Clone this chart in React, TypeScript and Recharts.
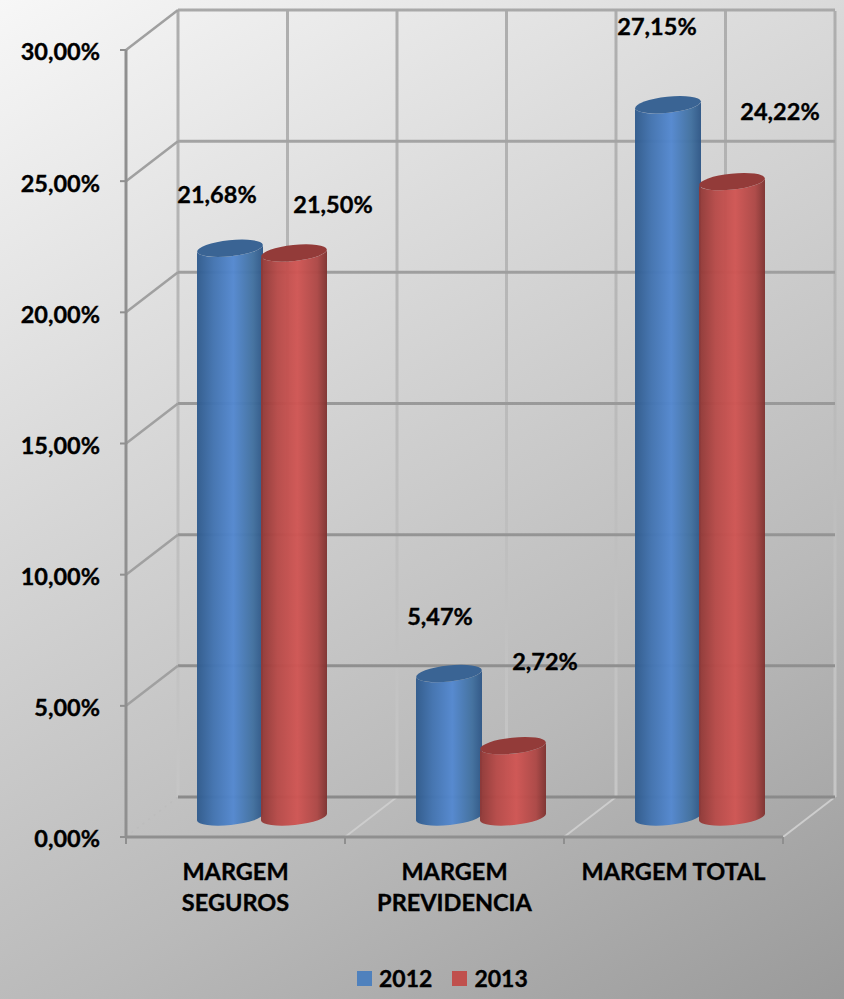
import { BarChart, Bar, XAxis, YAxis, Legend, LabelList, ReferenceLine } from "recharts"

const categories = ["MARGEM\nSEGUROS", "MARGEM\nPREVIDENCIA", "MARGEM TOTAL"]
const series2012 = [21.68, 5.47, 27.15]
const series2013 = [21.5, 2.72, 24.22]
const yTicks = [0, 5, 10, 15, 20, 25, 30]

const data = categories.map((name, i) => ({ name, v2012: series2012[i], v2013: series2013[i] }))

// 3d look: back wall and cylinders sit behind the axis plane
const WALL_DX = 52
const WALL_DY = -40
const BAR_DX = 26
const BAR_DY = -20
const PLOT_H = 786
const FONT = "Lato, sans-serif"
const textStyle = { fontFamily: FONT, fontWeight: 700, fontSize: 23.5, fill: "#000", stroke: "#000", strokeWidth: 0.35 }

// hand placed labels, relative to the bar top on the axis plane
const labelOffsets2012 = [[13, -74], [17, -78], [15, -99]]
const labelOffsets2013 = [[65, -69], [58, -105], [74, -91]]

const fmt = (v: number) => v.toFixed(2).replace(".", ",") + "%"

function Cylinder({ x, y, width, height, tone }: any) {
  const left = x + BAR_DX
  const right = left + width
  const top = y + BAR_DY
  const bottom = y + height + BAR_DY
  const rx = width / 2
  const ry = 8
  const tilt = 3.5
  return (
    <g>
      <path
        d={`M${left},${top + tilt} L${left},${bottom + tilt} A${rx},${ry} -6 0 0 ${right},${bottom - tilt} L${right},${top - tilt} A${rx},${ry} -6 0 1 ${left},${top + tilt} Z`}
        fill={`url(#body${tone})`}
        fillOpacity={0.96}
      />
      <ellipse
        cx={left + rx}
        cy={top}
        rx={rx}
        ry={ry}
        transform={`rotate(-6 ${left + rx} ${top})`}
        fill={tone === "Blue" ? "#3a6494" : "#933b39"}
      />
    </g>
  )
}

function HorizontalWallLine({ x1, y1, x2, y2, value }: any) {
  const isFloor = value === 0
  return (
    <g>
      <line x1={x1 + WALL_DX} y1={y1 + WALL_DY} x2={x2 + WALL_DX} y2={y2 + WALL_DY} stroke="url(#gridH)" strokeWidth={3} />
      <line
        x1={x1}
        y1={y1}
        x2={x1 + WALL_DX}
        y2={y1 + WALL_DY}
        stroke={isFloor ? "#bdbdbd" : "#a0a0a0"}
        strokeWidth={isFloor ? 1.5 : 2.5}
        strokeDasharray={isFloor ? "2 5" : undefined}
      />
    </g>
  )
}

function BackWallVerticals({ x1, x2, y1 }: any) {
  const step = (x2 - x1) / 6
  const floorStep = (x2 - x1) / 3
  return (
    <g>
      {[0, 1, 2, 3, 4, 5, 6].map((i) => (
        <line
          key={i}
          x1={x1 + WALL_DX + i * step}
          y1={y1 + WALL_DY - PLOT_H}
          x2={x1 + WALL_DX + i * step}
          y2={y1 + WALL_DY}
          stroke="url(#gridV)"
          strokeWidth={3}
        />
      ))}
      {[1, 2, 3].map((i) => (
        <line
          key={i}
          x1={x1 + i * floorStep}
          y1={y1}
          x2={x1 + i * floorStep + WALL_DX}
          y2={y1 + WALL_DY}
          stroke="#cdcdcd"
          strokeWidth={2}
        />
      ))}
    </g>
  )
}

function CategoryTick({ x, y, payload }: any) {
  const half = 657 / 6
  const lines = String(payload.value).split("\n")
  return (
    <g>
      <line x1={x - half} y1={y - 8} x2={x - half} y2={y - 1} stroke="#8f8f8f" strokeWidth={2} />
      <line x1={x + half} y1={y - 8} x2={x + half} y2={y - 1} stroke="#8f8f8f" strokeWidth={2} />
      <text x={x} y={y} textAnchor="middle" style={textStyle}>
        {lines.map((l, i) => (
          <tspan key={l} x={x} dy={i === 0 ? 35 : 31}>
            {l}
          </tspan>
        ))}
      </text>
    </g>
  )
}

function BarLabel({ x, y, width, value, index, offsets }: any) {
  const [dx, dy] = offsets[index]
  return (
    <text x={x + width / 2 + dx} y={y + dy} textAnchor="middle" dominantBaseline="central" style={textStyle}>
      {fmt(Number(value))}
    </text>
  )
}

function LegendContent({ payload }: any) {
  return (
    <div style={{ display: "flex", alignItems: "center", height: 30 }}>
      {(payload || []).map((item: any) => (
        <div key={item.value} style={{ display: "flex", alignItems: "center", marginRight: 20 }}>
          <span style={{ display: "inline-block", width: 15, height: 15, background: item.color, marginRight: 7 }} />
          <span style={{ color: "#000", fontFamily: FONT, fontWeight: 700, fontSize: 23, WebkitTextStroke: "0.35px #000" }}>
            {item.value}
          </span>
        </div>
      ))}
    </div>
  )
}

export default function App() {
  return (
    <div
      style={{
        position: "absolute",
        left: 0,
        top: 0,
        width: 844,
        height: 999,
        background: "linear-gradient(150deg, #f7f7f7 0%, #dcdcdc 30%, #b9b9b9 70%, #9a9a9a 100%)",
      }}
    >
      <BarChart
        width={844}
        height={999}
        data={data}
        barSize={66}
        barGap={-2}
        margin={{ top: 50, right: 61, bottom: 42, left: 0 }}
      >
        <defs>
          <linearGradient id="bodyBlue" x1="0" y1="0" x2="1" y2="0">
            <stop offset="0%" stopColor="#2f5a8c" />
            <stop offset="25%" stopColor="#4273b0" />
            <stop offset="55%" stopColor="#5388d0" />
            <stop offset="85%" stopColor="#41709f" />
            <stop offset="100%" stopColor="#2e5686" />
          </linearGradient>
          <linearGradient id="bodyRed" x1="0" y1="0" x2="1" y2="0">
            <stop offset="0%" stopColor="#8e3836" />
            <stop offset="25%" stopColor="#b74a48" />
            <stop offset="55%" stopColor="#d05553" />
            <stop offset="85%" stopColor="#ad4745" />
            <stop offset="100%" stopColor="#7e3230" />
          </linearGradient>
          <linearGradient id="gridH" gradientUnits="userSpaceOnUse" x1="0" y1="0" x2="0" y2="800">
            <stop offset="0%" stopColor="#a9a9a9" />
            <stop offset="100%" stopColor="#8a8a8a" />
          </linearGradient>
          <linearGradient id="gridV" gradientUnits="userSpaceOnUse" x1="0" y1="0" x2="0" y2="800">
            <stop offset="0%" stopColor="#adadad" />
            <stop offset="60%" stopColor="#bdbdbd" />
            <stop offset="100%" stopColor="#c6c6c6" />
          </linearGradient>
        </defs>

        <ReferenceLine y={0} shape={BackWallVerticals} zIndex={-100} />
        {yTicks.map((t) => (
          <ReferenceLine key={t} y={t} shape={(p: any) => <HorizontalWallLine {...p} value={t} />} zIndex={-100} />
        ))}

        <XAxis
          dataKey="name"
          interval={0}
          height={90}
          tickLine={false}
          axisLine={{ stroke: "#8f8f8f", strokeWidth: 3 }}
          tick={<CategoryTick />}
        />
        <YAxis
          width={126}
          domain={[0, 30]}
          ticks={yTicks}
          tickFormatter={fmt}
          tickSize={6}
          tickMargin={20}
          axisLine={{ stroke: "#8f8f8f", strokeWidth: 3 }}
          tickLine={{ stroke: "#8f8f8f", strokeWidth: 2 }}
          tick={{ ...textStyle, dy: 2 }}
        />
        <Legend content={<LegendContent />} wrapperStyle={{ left: 357, top: 963, width: 240 }} />
        <Bar dataKey="v2012" name="2012" fill="#4f81bd" isAnimationActive={false} shape={(p: any) => <Cylinder {...p} tone="Blue" />}>
          <LabelList dataKey="v2012" content={(p: any) => <BarLabel {...p} offsets={labelOffsets2012} />} />
        </Bar>
        <Bar dataKey="v2013" name="2013" fill="#c0504d" isAnimationActive={false} shape={(p: any) => <Cylinder {...p} tone="Red" />}>
          <LabelList dataKey="v2013" content={(p: any) => <BarLabel {...p} offsets={labelOffsets2013} />} />
        </Bar>
      </BarChart>
    </div>
  )
}
